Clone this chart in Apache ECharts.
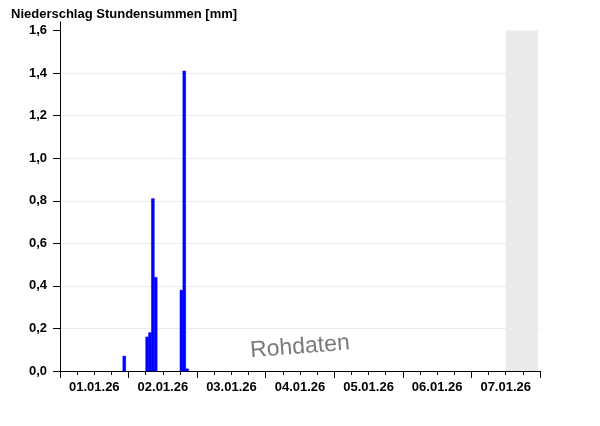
<!DOCTYPE html>
<html>
<head>
<meta charset="utf-8">
<script src="https://cdn.jsdelivr.net/npm/echarts@6/dist/echarts.min.js"></script>
<style>html,body{margin:0;padding:0;background:#fff;}#c{width:600px;height:426px;}</style>
</head>
<body>
<div id="c"></div>
<script>
// Day labels (each day spans 24 hours, label at its centre)
var dayLabels = ['01.01.26', '02.01.26', '03.01.26', '04.01.26', '05.01.26', '06.01.26', '07.01.26'];
// Hourly precipitation: start hour (hours since 01.01.26 00:00) and value in mm
var barHours = [22, 30, 31, 32, 33, 42, 43, 44];
var barValues = [0.07, 0.16, 0.18, 0.81, 0.44, 0.38, 1.41, 0.01];
// Not-yet-available period (hours)
var futureStart = 156;
var futureEnd = 167.3;
var yTicks = [0, 0.2, 0.4, 0.6, 0.8, 1.0, 1.2, 1.4, 1.6];

var barData = barHours.map(function (h, i) { return [h, barValues[i]]; });
var FONT = '"Liberation Sans", Arial, sans-serif';

var chart = echarts.init(document.getElementById('c'), null, { renderer: 'canvas' });
chart.setOption({
  animation: false,
  backgroundColor: '#fff',
  title: {
    text: 'Niederschlag Stundensummen [mm]',
    left: 6, top: 3,
    textStyle: { fontFamily: FONT, fontWeight: 'bold', fontSize: 13, color: '#000' }
  },
  grid: { left: 60, right: 60, top: 22, bottom: 55, containLabel: false },
  xAxis: [{
    type: 'value', min: 0, max: 168, interval: 24, position: 'bottom', offset: 0,
    axisLine: { show: true, onZero: false, lineStyle: { color: '#000', width: 1 } },
    axisTick: { show: true, length: 7, lineStyle: { color: '#000' } },
    axisLabel: { show: false },
    splitLine: { show: false }
  }, {
    type: 'value', min: 0, max: 168, interval: 6, position: 'bottom', offset: 0,
    axisLine: { show: false, onZero: false },
    axisTick: { show: true, length: 4, lineStyle: { color: '#000' } },
    axisLabel: { show: false },
    splitLine: { show: false }
  }, {
    type: 'category', data: dayLabels, position: 'bottom', offset: 0, boundaryGap: true,
    axisLine: { show: false, onZero: false }, axisTick: { show: false }, splitLine: { show: false },
    axisLabel: { margin: 10, fontFamily: FONT, fontWeight: 'bold', fontSize: 13, color: '#000' }
  }],
  yAxis: [{
    type: 'value', min: 0, max: 1.64, interval: 0.2, position: 'left',
    axisLine: { show: true, lineStyle: { color: '#000' } },
    axisTick: { show: true, length: 7, customValues: yTicks, lineStyle: { color: '#000' } },
    axisLabel: {
      customValues: yTicks, margin: 13,
      fontFamily: FONT, fontWeight: 'bold', fontSize: 13, color: '#000',
      formatter: function (v) { return v.toFixed(1).replace('.', ','); }
    },
    splitLine: { show: true, showMinLine: false, showMaxLine: false, lineStyle: { color: '#ebebeb', width: 1 } }
  }, {
    type: 'value', min: 0, max: 1.64, position: 'right',
    axisLine: { show: true, lineStyle: { color: '#000' } },
    axisTick: { show: false }, axisLabel: { show: false }, splitLine: { show: false }
  }],
  series: [{
    type: 'custom',
    xAxisIndex: 0, yAxisIndex: 0,
    data: barData,
    renderItem: function (params, api) {
      var h = api.value(0), v = api.value(1);
      var p0 = api.coord([h, 0]);
      var p1 = api.coord([h + 1, v]);
      return {
        type: 'rect',
        shape: { x: p0[0], y: p1[1], width: p1[0] - p0[0], height: p0[1] - p1[1] },
        style: { fill: '#0000ff', stroke: '#0000ff', lineWidth: 0.5 }
      };
    },
    markArea: {
      silent: true,
      itemStyle: { color: '#ebebeb' },
      data: [[{ xAxis: futureStart, yAxis: 0 }, { xAxis: futureEnd, yAxis: 1.6 }]]
    },
    z: 3
  }],
  graphic: [{
    type: 'text',
    x: 300, y: 347,
    rotation: 0.08,
    style: {
      text: 'Rohdaten',
      font: '23px "Liberation Sans", Arial, sans-serif',
      fill: '#7a7a7a',
      align: 'center',
      verticalAlign: 'middle',
      shadowColor: 'rgba(0,0,0,0.25)',
      shadowOffsetX: 1,
      shadowOffsetY: 1,
      shadowBlur: 0
    },
    z: 10
  }]
});
</script>
</body>
</html>
